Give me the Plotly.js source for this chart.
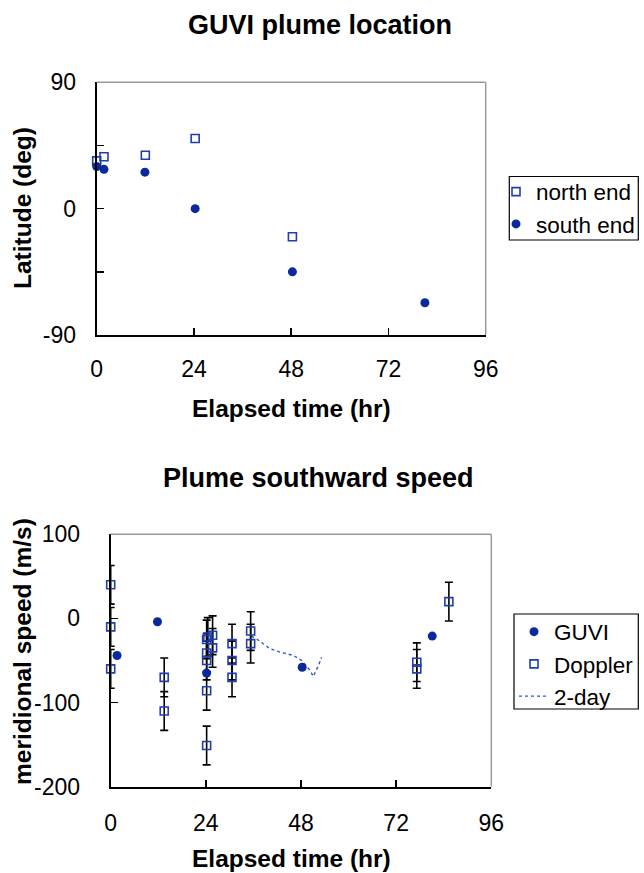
<!DOCTYPE html>
<html>
<head>
<meta charset="utf-8">
<script src="https://cdn.plot.ly/plotly-3.0.1.min.js"></script>
<style>html,body{margin:0;padding:0;background:#fff;}#chart{width:644px;height:873px;}</style>
</head>
<body>
<div id="chart"></div>
<script>
// ---- data: GUVI plume location ----
const northTime = [0, 1.8, 12.0, 24.3, 48.3];
const northLat  = [34, 37, 38, 50, -20];
const southTime = [0, 1.8, 11.9, 24.3, 48.3, 81.0];
const southLat  = [30, 28, 26, 0, -45, -67];

// ---- data: Plume southward speed ----
const guviTime  = [1.6, 11.8, 24.2, 48.3, 81.1];
const guviSpeed = [-44, -4, -65, -58, -21];
const dopplerTime  = [0, 0, 0, 13.5, 13.5, 24.2, 24.5, 24.2, 24.2, 24.2, 24.2, 25.7, 25.7, 30.6, 30.6, 30.6, 35.3, 35.3, 77.2, 77.2, 85.3];
const dopplerSpeed = [40, -10, -60, -70, -110, -25, -22, -41, -50, -86, -151, -20, -35, -30, -50, -70, -15, -30, -52, -60, 20];
const dopplerErr   = [23, 23, 23, 23, 23, 23, 23, 23, 23, 23, 23, 23, 23, 23, 23, 23, 23, 23, 23, 23, 23];
const twoDayTime  = [35.5, 37.0, 40.2, 42.7, 46.1, 48.2, 50.3, 51.1, 52.4, 53.2];
const twoDaySpeed = [-21, -25, -36, -40, -44, -50, -62, -69, -56, -46];

// ---- tick labels ----
const timeTicks = [0, 24, 48, 72, 96];
const timeTickText = ['0', '24', '48', '72', '96'];
const latTicks = [-90, -45, 0, 45, 90];
const latTickText = ['-90', '', '0', '', '90'];
const speedTicks = [-200, -100, 0, 100];
const speedTickText = ['-200', '-100', '0', '100'];

const FONT = 'Liberation Sans, Arial, Helvetica, sans-serif';
const NAVY = '#0a2a9c';
const BLUE = '#1f3fae';
const W = 644, H = 873;
const px = v => v / W;
const py = v => 1 - v / H;

const traces = [
  {x: northTime, y: northLat, name: 'north end', type: 'scatter', mode: 'markers',
   xaxis: 'x', yaxis: 'y', legend: 'legend', cliponaxis: false,
   marker: {symbol: 'square-open', size: 8, color: BLUE, line: {width: 1.6, color: BLUE}}},
  {x: southTime, y: southLat, name: 'south end', type: 'scatter', mode: 'markers',
   xaxis: 'x', yaxis: 'y', legend: 'legend', cliponaxis: false,
   marker: {symbol: 'circle', size: 9, color: NAVY}},
  {x: twoDayTime, y: twoDaySpeed, name: '2-day', type: 'scatter', mode: 'lines',
   xaxis: 'x2', yaxis: 'y2', legend: 'legend2', legendrank: 3,
   line: {color: '#3355cc', width: 1.4, dash: 'dot'}},
  {x: dopplerTime, y: dopplerSpeed, name: 'Doppler', type: 'scatter', mode: 'markers',
   xaxis: 'x2', yaxis: 'y2', legend: 'legend2', legendrank: 2, cliponaxis: false,
   error_y: {type: 'data', array: dopplerErr, visible: true, color: '#000', thickness: 1.6, width: 4},
   marker: {symbol: 'square-open', size: 8, color: BLUE, line: {width: 1.6, color: BLUE}}},
  {x: guviTime, y: guviSpeed, name: 'GUVI', type: 'scatter', mode: 'markers',
   xaxis: 'x2', yaxis: 'y2', legend: 'legend2', legendrank: 1, cliponaxis: false,
   marker: {symbol: 'circle', size: 9, color: NAVY}}
];

const tickFont = {family: FONT, size: 23, color: '#000'};
const axisCommon = {
  showgrid: false, zeroline: false, showline: true, linecolor: '#000', linewidth: 2,
  ticks: 'inside', ticklen: 7, tickwidth: 1.5, tickcolor: '#000',
  tickfont: tickFont, tickmode: 'array', fixedrange: true
};

const titleFont = {family: FONT, size: 27, color: '#000', weight: 'bold'};
const axTitleFont = {family: FONT, size: 24.5, color: '#000', weight: 'bold'};
const legendFont = {family: FONT, size: 22.5, color: '#000'};

const layout = {
  width: W, height: H,
  margin: {l: 0, r: 0, t: 0, b: 0},
  paper_bgcolor: '#fff', plot_bgcolor: '#fff',
  font: {family: FONT, color: '#000'},
  xaxis: Object.assign({}, axisCommon, {
    domain: [px(96.7), px(485.7)], range: [0, 96], anchor: 'y',
    tickvals: timeTicks, ticktext: timeTickText, ticklabelstandoff: 12
  }),
  yaxis: Object.assign({}, axisCommon, {
    domain: [py(335), py(82.3)], range: [-90, 90], anchor: 'x',
    tickvals: latTicks, ticktext: latTickText, ticklabelstandoff: 14
  }),
  xaxis2: Object.assign({}, axisCommon, {
    domain: [px(110.7), px(491.3)], range: [0, 96], anchor: 'y2',
    tickvals: timeTicks, ticktext: timeTickText, ticklabelstandoff: 15
  }),
  yaxis2: Object.assign({}, axisCommon, {
    domain: [py(786.7), py(534.3)], range: [-200, 100], anchor: 'x2',
    tickvals: speedTicks, ticktext: speedTickText, ticklabelstandoff: 24
  }),
  legend: {
    x: px(496), y: py(170.5), xanchor: 'left', yanchor: 'top',
    bgcolor: 'rgba(0,0,0,0)', borderwidth: 0,
    font: legendFont, tracegroupgap: 0
  },
  legend2: {
    x: px(514), y: py(610.5), xanchor: 'left', yanchor: 'top',
    bgcolor: 'rgba(0,0,0,0)', borderwidth: 0,
    font: legendFont, traceorder: 'normal'
  },
  showlegend: true,
  shapes: [
    // grey top/right frame lines
    {type: 'line', xref: 'x domain', yref: 'y domain', x0: 0, x1: 1, y0: 1, y1: 1, line: {color: '#9a9a9a', width: 1.5}},
    {type: 'line', xref: 'x domain', yref: 'y domain', x0: 1, x1: 1, y0: 0, y1: 1, line: {color: '#9a9a9a', width: 1.5}},
    {type: 'line', xref: 'x2 domain', yref: 'y2 domain', x0: 0, x1: 1, y0: 1, y1: 1, line: {color: '#9a9a9a', width: 1.5}},
    {type: 'line', xref: 'x2 domain', yref: 'y2 domain', x0: 1, x1: 1, y0: 0, y1: 1, line: {color: '#9a9a9a', width: 1.5}},
    // legend boxes
    {type: 'rect', xref: 'paper', yref: 'paper', x0: px(509.3), x1: px(638.3), y0: py(240), y1: py(176.5), line: {color: '#000', width: 1.2}},
    {type: 'rect', xref: 'paper', yref: 'paper', x0: px(514), x1: px(638.3), y0: py(709), y1: py(614), line: {color: '#000', width: 1.2}}
  ],
  annotations: [
    {text: 'GUVI plume location', xref: 'paper', yref: 'paper', x: px(320), y: py(25), xanchor: 'center', yanchor: 'middle', showarrow: false, font: titleFont},
    {text: 'Plume southward speed', xref: 'paper', yref: 'paper', x: px(318), y: py(478), xanchor: 'center', yanchor: 'middle', showarrow: false, font: titleFont},
    {text: 'Elapsed time (hr)', xref: 'paper', yref: 'paper', x: px(291.5), y: py(408), xanchor: 'center', yanchor: 'middle', showarrow: false, font: axTitleFont},
    {text: 'Elapsed time (hr)', xref: 'paper', yref: 'paper', x: px(291), y: py(858), xanchor: 'center', yanchor: 'middle', showarrow: false, font: axTitleFont},
    {text: 'Latitude (deg)', xref: 'paper', yref: 'paper', x: px(22.5), y: py(208.5), xanchor: 'center', yanchor: 'middle', textangle: -90, showarrow: false, font: axTitleFont},
    {text: 'meridional speed (m/s)', xref: 'paper', yref: 'paper', x: px(22.5), y: py(651.5), xanchor: 'center', yanchor: 'middle', textangle: -90, showarrow: false, font: axTitleFont}
  ]
};

Plotly.newPlot('chart', traces, layout, {staticPlot: true, displayModeBar: false});
</script>
</body>
</html>
